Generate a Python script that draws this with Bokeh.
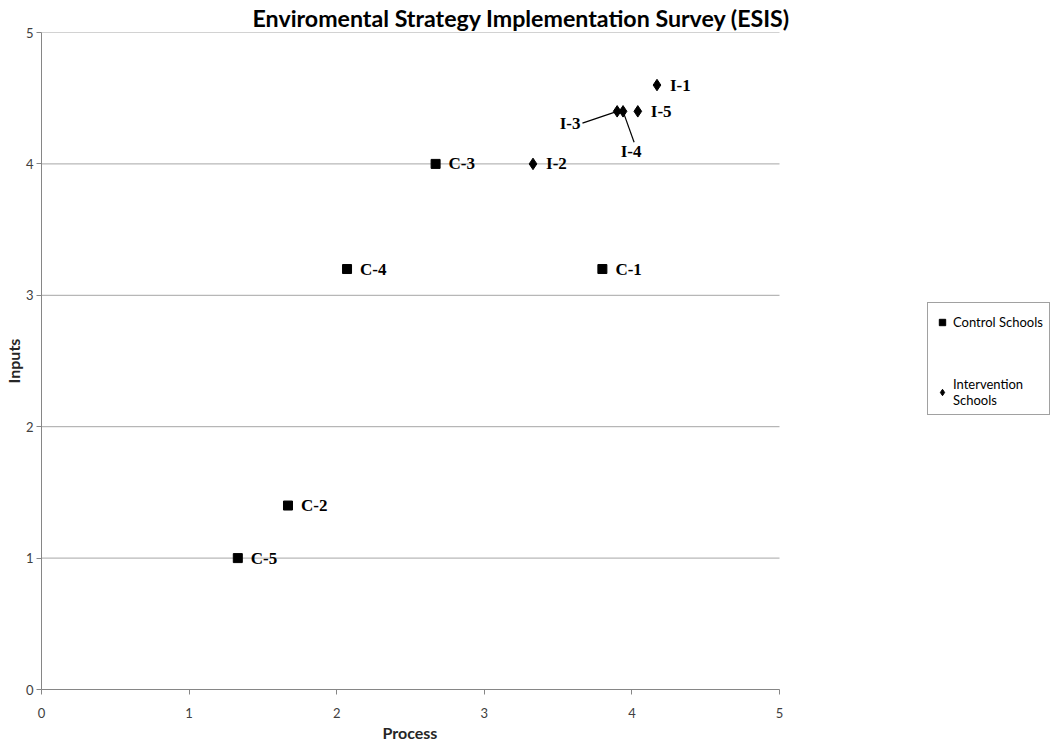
from bokeh.plotting import figure
from bokeh.models import (Range1d, FixedTicker, ColumnDataSource, Legend, LegendItem, Title)
from bokeh.core.properties import value
from bokeh.embed import file_html
from bokeh.resources import INLINE

# ---- data ----
title_text = "Enviromental Strategy Implementation Survey (ESIS)"
x_label = "Process"
y_label = "Inputs"
ticks = [0, 1, 2, 3, 4, 5]

control_names = ["C-1", "C-2", "C-3", "C-4", "C-5"]
control_x = [3.8, 1.67, 2.67, 2.07, 1.33]
control_y = [3.2, 1.4, 4.0, 3.2, 1.0]

interv_names = ["I-1", "I-2", "I-3", "I-4", "I-5"]
interv_x = [4.17, 3.33, 3.9, 3.94, 4.04]
interv_y = [4.6, 4.0, 4.4, 4.4, 4.4]

# labels placed beside their point (right side)
right_names = ["I-1", "I-2", "I-5"]
# labels moved away with leader lines: name, label anchor (data units)
leader_names = ["I-3", "I-4"]
leader_x = [3.665, 4.015]
leader_y = [4.31, 4.165]

# plotting area continues to the right (blank) so the legend can sit beside the axes
x_view_end = 6.836

p = figure(width=1050, height=742, output_backend="svg", toolbar_location=None,
           x_range=Range1d(0, x_view_end), y_range=Range1d(0, 5),
           min_border_left=41, min_border_right=0, min_border_top=0, min_border_bottom=52)
p.outline_line_color = None
p.background_fill_color = "white"

p.title = Title(text=title_text, align="left", offset=211, text_font="Lato",
                text_font_size="23.2px", text_font_style="bold", text_color="black", standoff=2)

for ax in (p.xaxis[0], p.yaxis[0]):
    ax.ticker = FixedTicker(ticks=ticks)
    ax.bounds = (ticks[0], ticks[-1])
    ax.axis_line_color = "#868686"
    ax.major_tick_line_color = "#868686"
    ax.major_tick_out = 5
    ax.major_tick_in = 0
    ax.minor_tick_line_color = None
    ax.major_label_text_font = "Lato"
    ax.major_label_text_font_size = "13px"
    ax.major_label_text_color = "#404040"
    ax.axis_label_text_font = "Lato"
    ax.axis_label_text_font_size = "16px"
    ax.axis_label_text_font_style = "bold"
    ax.axis_label_text_color = "#262626"
p.yaxis[0].axis_label = y_label
p.xaxis[0].major_label_standoff = 13
p.yaxis[0].major_label_standoff = 3
p.yaxis[0].axis_label_standoff = 0

# x axis title as a below-panel title (compact)
p.add_layout(Title(text=x_label, align="left", offset=341, text_font="Lato",
                   text_font_size="16px", text_font_style="bold", text_color="#262626",
                   standoff=1), "below")

p.xgrid.grid_line_color = None
p.ygrid.grid_line_color = None
# horizontal gridlines spanning only the axis extent
p.segment(x0=[ticks[0]] * len(ticks), y0=ticks, x1=[ticks[-1]] * len(ticks), y1=ticks,
          line_color="#a6a6a6", line_width=1)

csrc = ColumnDataSource(dict(x=control_x, y=control_y, name=control_names))
isrc = ColumnDataSource(dict(x=interv_x, y=interv_y, name=interv_names))

# leader lines from the points to their moved labels
lx0 = [interv_x[interv_names.index(n)] for n in leader_names]
ly0 = [interv_y[interv_names.index(n)] for n in leader_names]
p.segment(x0=lx0, y0=ly0, x1=leader_x, y1=leader_y, line_color="black", line_width=1.2)

rc = p.scatter("x", "y", source=csrc, marker="square", size=9, color="black")
ri = p.scatter("x", "y", source=isrc, marker="diamond", size=11.5, color="black")

lab_font = value("Liberation Serif")
p.text("x", "y", text="name", source=csrc, x_offset=13, text_font=lab_font,
       text_font_size="17px", text_font_style="bold", text_baseline="middle", text_color="black")
rsrc = ColumnDataSource(dict(x=[interv_x[interv_names.index(n)] for n in right_names],
                             y=[interv_y[interv_names.index(n)] for n in right_names],
                             name=right_names))
p.text("x", "y", text="name", source=rsrc, x_offset=13, text_font=lab_font,
       text_font_size="17px", text_font_style="bold", text_baseline="middle", text_color="black")
p.text(x=[leader_x[0]], y=[leader_y[0]], text=[leader_names[0]], x_offset=-2, text_font=lab_font,
       text_font_size="17px", text_font_style="bold", text_baseline="middle", text_align="right",
       text_color="black")
p.text(x=[leader_x[1]], y=[leader_y[1]], text=[leader_names[1]], x_offset=-3, y_offset=0,
       text_font=lab_font, text_font_size="17px", text_font_style="bold", text_baseline="top",
       text_align="center", text_color="black")

legend = Legend(items=[LegendItem(label="Control Schools", renderers=[rc]),
                       LegendItem(label="Intervention\nSchools", renderers=[ri])],
                location=(886, 274), margin=0, padding=6, spacing=41,
                glyph_width=16, glyph_height=20, label_height=26, label_standoff=3,
                label_text_font="Lato", label_text_font_size="13px", label_text_color="black",
                border_line_color="#444444", border_line_width=1, background_fill_alpha=1)
p.add_layout(legend, "center")

open("out.html", "w").write(file_html(p, INLINE))
